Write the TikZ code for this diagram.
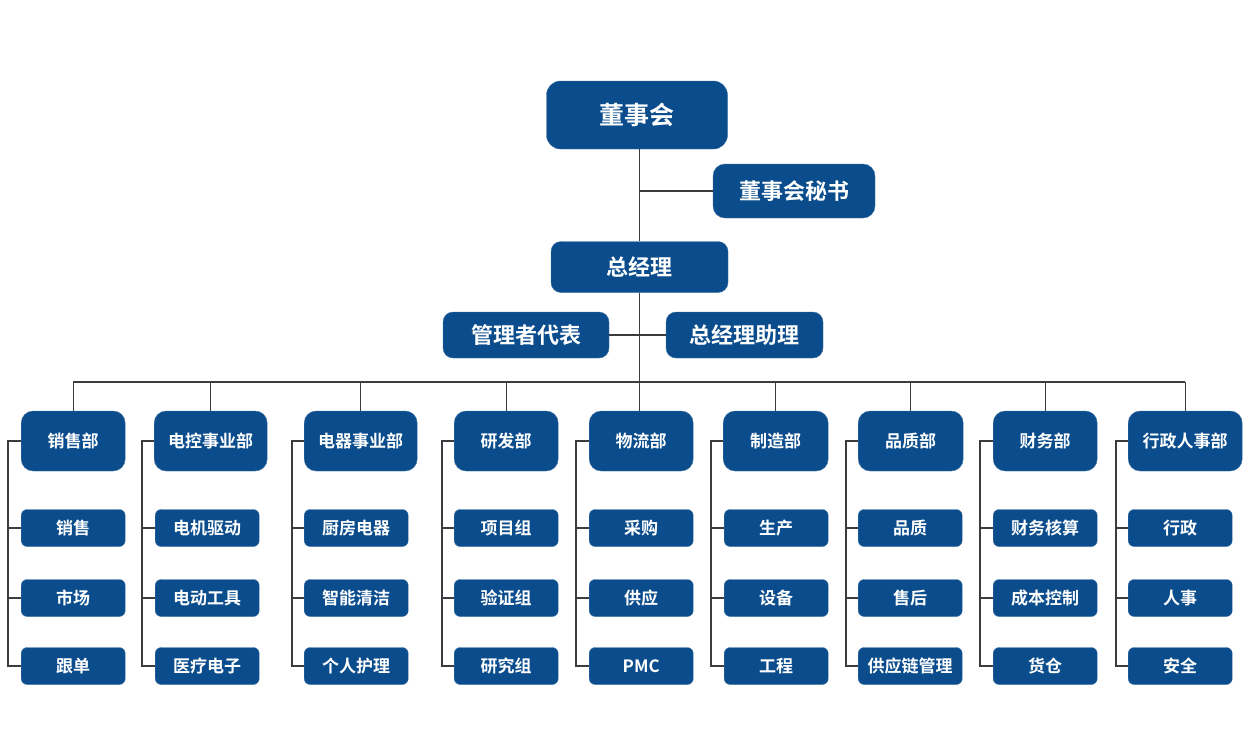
\documentclass[tikz,border=0pt]{standalone}
\usepackage{fontspec}
\setmainfont{Noto Sans CJK SC}[BoldFont={Noto Sans CJK SC Bold}]
\definecolor{boxblue}{RGB}{11,77,140}
\definecolor{linegray}{RGB}{60,60,64}

\begin{document}
\begin{tikzpicture}[x=1pt,y=-1pt,
    box/.style={fill=boxblue,draw=boxblue!80!white,text=white,font=\bfseries,inner sep=0pt},
    topbox/.style={box,rounded corners=14pt},
    deptbox/.style={box,rounded corners=12pt,minimum height=60pt,font=\bfseries\fontsize{17}{17}\selectfont,anchor=west},
    subbox/.style={box,rounded corners=6pt,minimum width=104pt,minimum height=37pt,font=\bfseries\fontsize{17}{17}\selectfont,anchor=west},
    conn/.style={draw=linegray,line width=1.4pt}]
            \useasboundingbox (0,0) rectangle (1250,750);
            % top levels
            \node[topbox,minimum width=181pt,minimum height=68pt,font=\bfseries\fontsize{25}{25}\selectfont] (board) at (637,115) {董事会};
            \node[topbox,rounded corners=12pt,minimum width=162pt,minimum height=54pt,font=\bfseries\fontsize{22}{22}\selectfont] (sec) at (794,191) {董事会秘书};
            \node[topbox,rounded corners=10pt,minimum width=177pt,minimum height=51pt,font=\bfseries\fontsize{22}{22}\selectfont] (gm) at (639.5,267) {总经理};
            \node[topbox,rounded corners=10pt,minimum width=166pt,minimum height=46pt,font=\bfseries\fontsize{22}{22}\selectfont] (rep) at (526,335) {管理者代表};
            \node[topbox,rounded corners=10pt,minimum width=157pt,minimum height=46pt,font=\bfseries\fontsize{22}{22}\selectfont] (asst) at (744.5,335) {总经理助理};
            % departments
            \node[deptbox,minimum width=104pt] (d1) at (21,441) {销售部};
            \node[deptbox,minimum width=113pt] (d2) at (154,441) {电控事业部};
            \node[deptbox,minimum width=113pt] (d3) at (304,441) {电器事业部};
            \node[deptbox,minimum width=104pt] (d4) at (454,441) {研发部};
            \node[deptbox,minimum width=104pt] (d5) at (589,441) {物流部};
            \node[deptbox,minimum width=105pt] (d6) at (723,441) {制造部};
            \node[deptbox,minimum width=105pt] (d7) at (858,441) {品质部};
            \node[deptbox,minimum width=104pt] (d8) at (993,441) {财务部};
            \node[deptbox,minimum width=114pt] (d9) at (1128,441) {行政人事部};
            % sub units
            \node[subbox] (s11) at (21,528) {销售};
            \node[subbox] (s12) at (21,598) {市场};
            \node[subbox] (s13) at (21,666) {跟单};
            \node[subbox] (s21) at (155,528) {电机驱动};
            \node[subbox] (s22) at (155,598) {电动工具};
            \node[subbox] (s23) at (155,666) {医疗电子};
            \node[subbox] (s31) at (304,528) {厨房电器};
            \node[subbox] (s32) at (304,598) {智能清洁};
            \node[subbox] (s33) at (304,666) {个人护理};
            \node[subbox] (s41) at (454,528) {项目组};
            \node[subbox] (s42) at (454,598) {验证组};
            \node[subbox] (s43) at (454,666) {研究组};
            \node[subbox] (s51) at (589,528) {采购};
            \node[subbox] (s52) at (589,598) {供应};
            \node[subbox] (s53) at (589,666) {PMC};
            \node[subbox] (s61) at (724,528) {生产};
            \node[subbox] (s62) at (724,598) {设备};
            \node[subbox] (s63) at (724,666) {工程};
            \node[subbox] (s71) at (858,528) {品质};
            \node[subbox] (s72) at (858,598) {售后};
            \node[subbox] (s73) at (858,666) {供应链管理};
            \node[subbox] (s81) at (993,528) {财务核算};
            \node[subbox] (s82) at (993,598) {成本控制};
            \node[subbox] (s83) at (993,666) {货仓};
            \node[subbox] (s91) at (1128,528) {行政};
            \node[subbox] (s92) at (1128,598) {人事};
            \node[subbox] (s93) at (1128,666) {安全};
            % connectors
            \coordinate (bus) at (639,382);
            \draw[conn] (gm.north) -- (gm.north |- board.south);
            \draw[conn] (sec.west) -- (sec.west -| gm.north);
            \draw[conn] (rep.east) -- (asst.west);
            \draw[conn] (gm.south) -- (gm.south |- d5.north);
            \draw[conn] (d1.north |- bus) -- (d9.north |- bus);
            \draw[conn] (d1.north) -- (d1.north |- bus);
            \draw[conn] (d2.north) -- (d2.north |- bus);
            \draw[conn] (d3.north) -- (d3.north |- bus);
            \draw[conn] (d4.north) -- (d4.north |- bus);
            \draw[conn] (d6.north) -- (d6.north |- bus);
            \draw[conn] (d7.north) -- (d7.north |- bus);
            \draw[conn] (d8.north) -- (d8.north |- bus);
            \draw[conn] (d9.north) -- (d9.north |- bus);
            \draw[conn] (d1.west) -- ++(-13,0) |- (s13.west) (s11.west) -- ++(-13,0) (s12.west) -- ++(-13,0);
            \draw[conn] (d2.west) -- ++(-12,0) |- (s23.west) (s21.west) -- ++(-13,0) (s22.west) -- ++(-13,0);
            \draw[conn] (d3.west) -- ++(-12,0) |- (s33.west) (s31.west) -- ++(-12,0) (s32.west) -- ++(-12,0);
            \draw[conn] (d4.west) -- ++(-12,0) |- (s43.west) (s41.west) -- ++(-12,0) (s42.west) -- ++(-12,0);
            \draw[conn] (d5.west) -- ++(-13,0) |- (s53.west) (s51.west) -- ++(-13,0) (s52.west) -- ++(-13,0);
            \draw[conn] (d6.west) -- ++(-12,0) |- (s63.west) (s61.west) -- ++(-13,0) (s62.west) -- ++(-13,0);
            \draw[conn] (d7.west) -- ++(-12,0) |- (s73.west) (s71.west) -- ++(-12,0) (s72.west) -- ++(-12,0);
            \draw[conn] (d8.west) -- ++(-13,0) |- (s83.west) (s81.west) -- ++(-13,0) (s82.west) -- ++(-13,0);
            \draw[conn] (d9.west) -- ++(-12,0) |- (s93.west) (s91.west) -- ++(-12,0) (s92.west) -- ++(-12,0);
        \end{tikzpicture}
\end{document}
